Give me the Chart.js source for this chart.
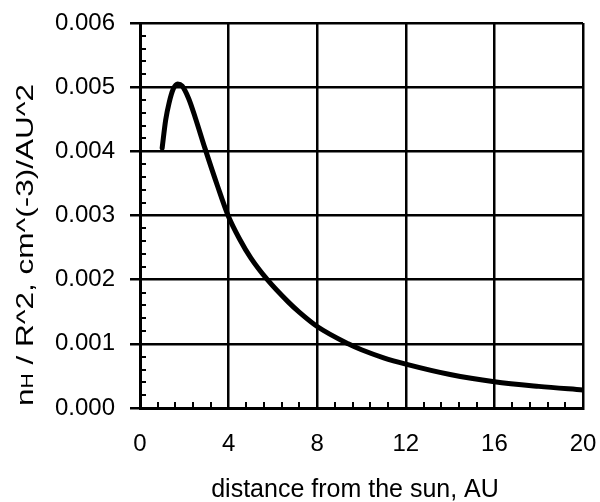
<!DOCTYPE html>
<html>
<head>
<meta charset="utf-8">
<script src="https://cdn.jsdelivr.net/npm/chart.js@4/dist/chart.umd.min.js"></script>
<style>
  html, body { margin: 0; padding: 0; background: #fff; }
  #wrap { width: 600px; height: 502px; position: relative; }
</style>
</head>
<body>
<div id="wrap"><canvas id="chart"></canvas></div>
<script>
// Hydrogen density divided by R^2 versus heliocentric distance
const distanceAU = [1.0, 1.16, 1.31, 1.5, 1.7, 1.9, 2.2, 2.5, 2.93, 3.5, 4.0, 4.5, 5.0, 5.75, 6.7, 7.2, 8.0, 9.4, 10.0, 11.0, 12.0, 14.0, 16.0, 18.0, 20.0];
const densityOverR2 = [0.00405, 0.00449, 0.00475, 0.00497, 0.00505, 0.00502, 0.00482, 0.00452, 0.00405, 0.00346, 0.00298, 0.00263, 0.00234, 0.00200, 0.00165, 0.00149, 0.00127, 0.00100, 0.000908, 0.000783, 0.000685, 0.000523, 0.00041, 0.000337, 0.00028];

const xTicks = [0, 4, 8, 12, 16, 20];
const yTicks = [0.000, 0.001, 0.002, 0.003, 0.004, 0.005, 0.006];

const xTitle = 'distance from the sun, AU';
const yTitleMain = 'n';
const yTitleSub = 'H';
const yTitleRest = ' / R^2, cm^(-3)/AU^2';

const FONT = '"Liberation Sans", Arial, Helvetica, sans-serif';

const points = distanceAU.map((x, i) => ({ x: x, y: densityOverR2[i] }));

// Inward minor ticks plus hand-set axis titles (subscript H needs manual drawing)
const decorations = {
  id: 'decorations',
  afterDraw(chart) {
    const ctx = chart.ctx;
    const xs = chart.scales.x, ys = chart.scales.y;
    const area = chart.chartArea;
    ctx.save();
    ctx.strokeStyle = '#000';
    ctx.lineWidth = 2;
    ctx.beginPath();
    // y minor ticks every 0.0002
    for (let i = 1; i < 30; i++) {
      if (i % 5 === 0) continue;
      const py = Math.round(ys.getPixelForValue(i * 0.0002));
      ctx.moveTo(area.left, py);
      ctx.lineTo(area.left + 6, py);
    }
    // x minor ticks every 0.8
    for (let i = 1; i < 25; i++) {
      if (i % 5 === 0) continue;
      const px = Math.round(xs.getPixelForValue(i * 0.8));
      ctx.moveTo(px, area.bottom);
      ctx.lineTo(px, area.bottom - 6);
    }
    ctx.stroke();

    // x title
    ctx.fillStyle = '#000';
    ctx.font = '25px ' + FONT;
    ctx.textAlign = 'center';
    ctx.textBaseline = 'alphabetic';
    ctx.fillText(xTitle, 355, 497);

    // y title, rotated, with subscript H
    const mainFont = '24px ' + FONT;
    const subFont = '16px ' + FONT;
    ctx.font = mainFont;
    const w1 = ctx.measureText(yTitleMain).width;
    const w3 = ctx.measureText(yTitleRest).width;
    ctx.font = subFont;
    const w2 = ctx.measureText(yTitleSub).width;
    const total = w1 + w2 + w3;
    const target = 322;
    const sx = target / total;
    ctx.translate(33, 245);
    ctx.rotate(-Math.PI / 2);
    ctx.scale(sx, 1);
    ctx.textAlign = 'left';
    let cx = -total / 2;
    ctx.font = mainFont;
    ctx.fillText(yTitleMain, cx, 0);
    cx += w1;
    ctx.font = subFont;
    ctx.fillText(yTitleSub, cx, 0);
    cx += w2;
    ctx.font = mainFont;
    ctx.fillText(yTitleRest, cx, 0);
    ctx.restore();
  }
};

new Chart(document.getElementById('chart'), {
  type: 'scatter',
  data: {
    datasets: [{
      data: points,
      showLine: true,
      borderColor: '#000',
      borderWidth: 5,
      pointRadius: 0,
      cubicInterpolationMode: 'monotone',
      borderCapStyle: 'round',
      borderJoinStyle: 'round',
      fill: false
    }]
  },
  options: {
    responsive: true,
    maintainAspectRatio: false,
    animation: false,
    events: [],
    layout: { padding: { left: 0, right: 17, top: 23, bottom: 0 } },
    plugins: {
      legend: { display: false },
      tooltip: { enabled: false }
    },
    scales: {
      x: {
        type: 'linear',
        min: 0,
        max: 20,
        afterFit(scale) {
          scale.height = 94;
          scale.paddingLeft = 0;
          scale.paddingRight = 0;
        },
        afterBuildTicks(scale) { scale.ticks = xTicks.map(v => ({ value: v })); },
        ticks: {
          color: '#000',
          font: { family: FONT, size: 24 },
          padding: 22,
          maxRotation: 0,
          callback: v => String(v)
        },
        grid: { color: '#000', lineWidth: 2.5, drawTicks: false },
        border: { color: '#000', width: 3 }
      },
      y: {
        type: 'linear',
        min: 0,
        max: 0.006,
        afterFit(scale) {
          scale.width = 140;
          scale.paddingTop = 0;
          scale.paddingBottom = 0;
        },
        afterBuildTicks(scale) { scale.ticks = yTicks.map(v => ({ value: v })); },
        ticks: {
          color: '#000',
          font: { family: FONT, size: 24 },
          padding: 15,
          callback: v => Number(v).toFixed(3)
        },
        grid: { color: '#000', lineWidth: 2.5, drawTicks: true, tickLength: 10 },
        border: { color: '#000', width: 3 }
      }
    }
  },
  plugins: [decorations]
});
</script>
</body>
</html>
